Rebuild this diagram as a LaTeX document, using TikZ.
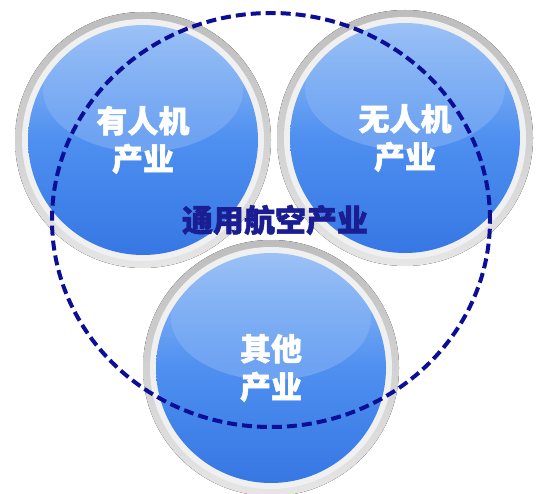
\documentclass[tikz,border=0pt]{standalone}
\usepackage{fontspec}
\newfontfamily\cjk{Noto Sans CJK SC}[BoldFeatures={FakeBold=1.5}]
\usetikzlibrary{fadings,shapes.geometric}
\definecolor{ballTop}{HTML}{9CC2F6}
\definecolor{ballMid}{HTML}{4E8FF0}
\definecolor{ballBottom}{HTML}{3677E4}
\definecolor{ringDark}{HTML}{BDBDBD}
\definecolor{ringLight}{HTML}{E6E6E6}
\definecolor{ringInner}{HTML}{F0F0F0}
\definecolor{navy}{HTML}{0C0F96}
\definecolor{navytext}{HTML}{1A1E92}
\begin{document}
\begin{tikzpicture}[x=1pt,y=-1pt,
  ringout/.style={top color=ringDark, bottom color=ringLight, draw=none},
  ringin/.style={fill=ringInner, draw=none},
  ball/.style={circle, minimum size=230pt, inner sep=0pt, top color=ballTop, bottom color=ballBottom, middle color=ballMid, draw=none},
  balltext/.style={text=white, align=center, font=\cjk\bfseries\fontsize{31}{38}\selectfont},
  bigtext/.style={text=navytext, font=\cjk\bfseries\fontsize{31}{36}\selectfont},
  outline/.style={draw=navy, line width=4pt, dash pattern=on 10pt off 5pt}
]
\useasboundingbox (0,0) rectangle (537,494);
\fill[white] (0,0) rectangle (537,494);
\newcommand\ballgroup[4]{%
  \fill[ringout] (#2,#3) circle[radius=128];
  \fill[ringin] (#2,#3) circle[radius=121];
  \node[ball] (#1) at (#2,#3) {};
  \fill[white, opacity=0.2, path fading=north] (#2,#3-50) ellipse[x radius=100, y radius=62];
  \node[balltext] (#1t) at (#2,#3) {#4};
}
\ballgroup{manned}{143}{140}{有人机\\产业}
\ballgroup{unmanned}{405}{138}{无人机\\产业}
\ballgroup{other}{271}{368}{其他\\产业}
\node[ellipse, outline, minimum width=438pt, minimum height=414pt, inner sep=0pt] (ga) at (271,220) {};
\node[bigtext] (gat) at (275,220) {通用航空产业};
\end{tikzpicture}
\end{document}
